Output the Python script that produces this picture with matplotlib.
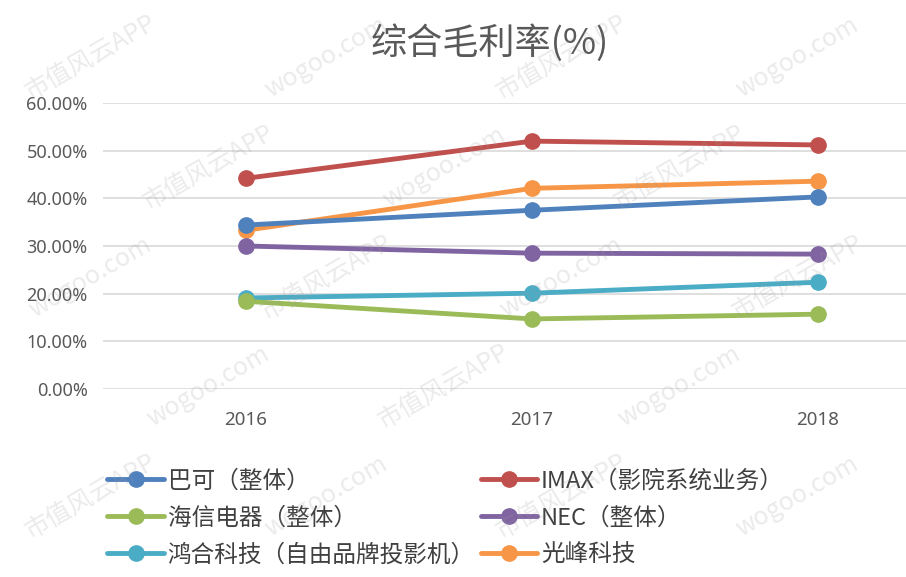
import matplotlib

matplotlib.use("Agg")
import matplotlib.pyplot as plt

plt.rcParams["font.family"] = ["Noto Sans CJK SC", "DejaVu Sans"]

years = ["2016", "2017", "2018"]
barco = [34.4, 37.5, 40.3]
imax = [44.2, 52.0, 51.2]
hisense = [18.4, 14.7, 15.7]
nec = [30.0, 28.5, 28.3]
vivitek = [19.1, 20.1, 22.4]
appotronics = [33.3, 42.1, 43.6]

series = [
    ("巴可（整体）", barco, "#4F81BD"),
    ("海信电器（整体）", hisense, "#9BBB59"),
    ("鸿合科技（自由品牌投影机）", vivitek, "#4BACC6"),
    ("IMAX（影院系统业务）", imax, "#C0504D"),
    ("NEC（整体）", nec, "#8064A2"),
    ("光峰科技", appotronics, "#F79646"),
]
draw_order = [3, 5, 0, 4, 2, 1]

fig = plt.figure(figsize=(9.06, 5.77), dpi=100)
ax = fig.add_axes([0.1137, 0.3258, 0.947, 0.4957])

x = list(range(len(years)))
lines = {}
for i in draw_order:
    name, vals, col = series[i]
    (ln,) = ax.plot(x, [v / 100 for v in vals], color=col, lw=3.5, marker="o",
                    markersize=11, label=name, solid_capstyle="round", zorder=3)
    lines[i] = ln

ax.set_xlim(-0.5, 2.5)
ax.set_ylim(0, 0.6)
ax.set_yticks([i / 10 for i in range(7)])
ax.set_yticklabels([f"{i * 10:.2f}%" for i in range(7)])
ax.set_xticks(x)
ax.set_xticklabels(years)
ax.grid(axis="y", color="#D9D9D9", lw=1.2)
ax.set_axisbelow(True)
for s in ax.spines.values():
    s.set_visible(False)
ax.tick_params(length=0, labelsize=13, colors="#595959", pad=11)
ax.tick_params(axis="x", pad=16, labelsize=13.5)
for t in ax.get_xticklabels() + ax.get_yticklabels():
    t.set_fontfamily("Noto Sans")

fig.text(0.541, 0.925, "综合毛利率(%)", ha="center", va="center",
         fontsize=26, color="#595959")

handles = [lines[i] for i in range(6)]
fig.legend(handles, [series[i][0] for i in range(6)], ncol=2,
           loc="upper left", bbox_to_anchor=(0.108, 0.203), frameon=False,
           fontsize=17, labelcolor="#404040", handlelength=2.4,
           handletextpad=0.15, columnspacing=0.25, labelspacing=0.6,
           borderaxespad=0)

# watermark, kept sparse and inside the picture
wm = ["市值风云APP", "wogoo.com"]
k = 0
for row in range(5):
    for col in range(4):
        xx = 0.1 + col * 0.26 + (row % 2) * 0.13
        yy = 0.9 - row * 0.19
        if xx > 0.9:
            continue
        fig.text(xx, yy, wm[k % 2], rotation=30, fontsize=18, color="#9A9A9A",
                 alpha=0.2, ha="center", va="center", zorder=10)
        k += 1

fig.savefig("out.png", dpi=100)
